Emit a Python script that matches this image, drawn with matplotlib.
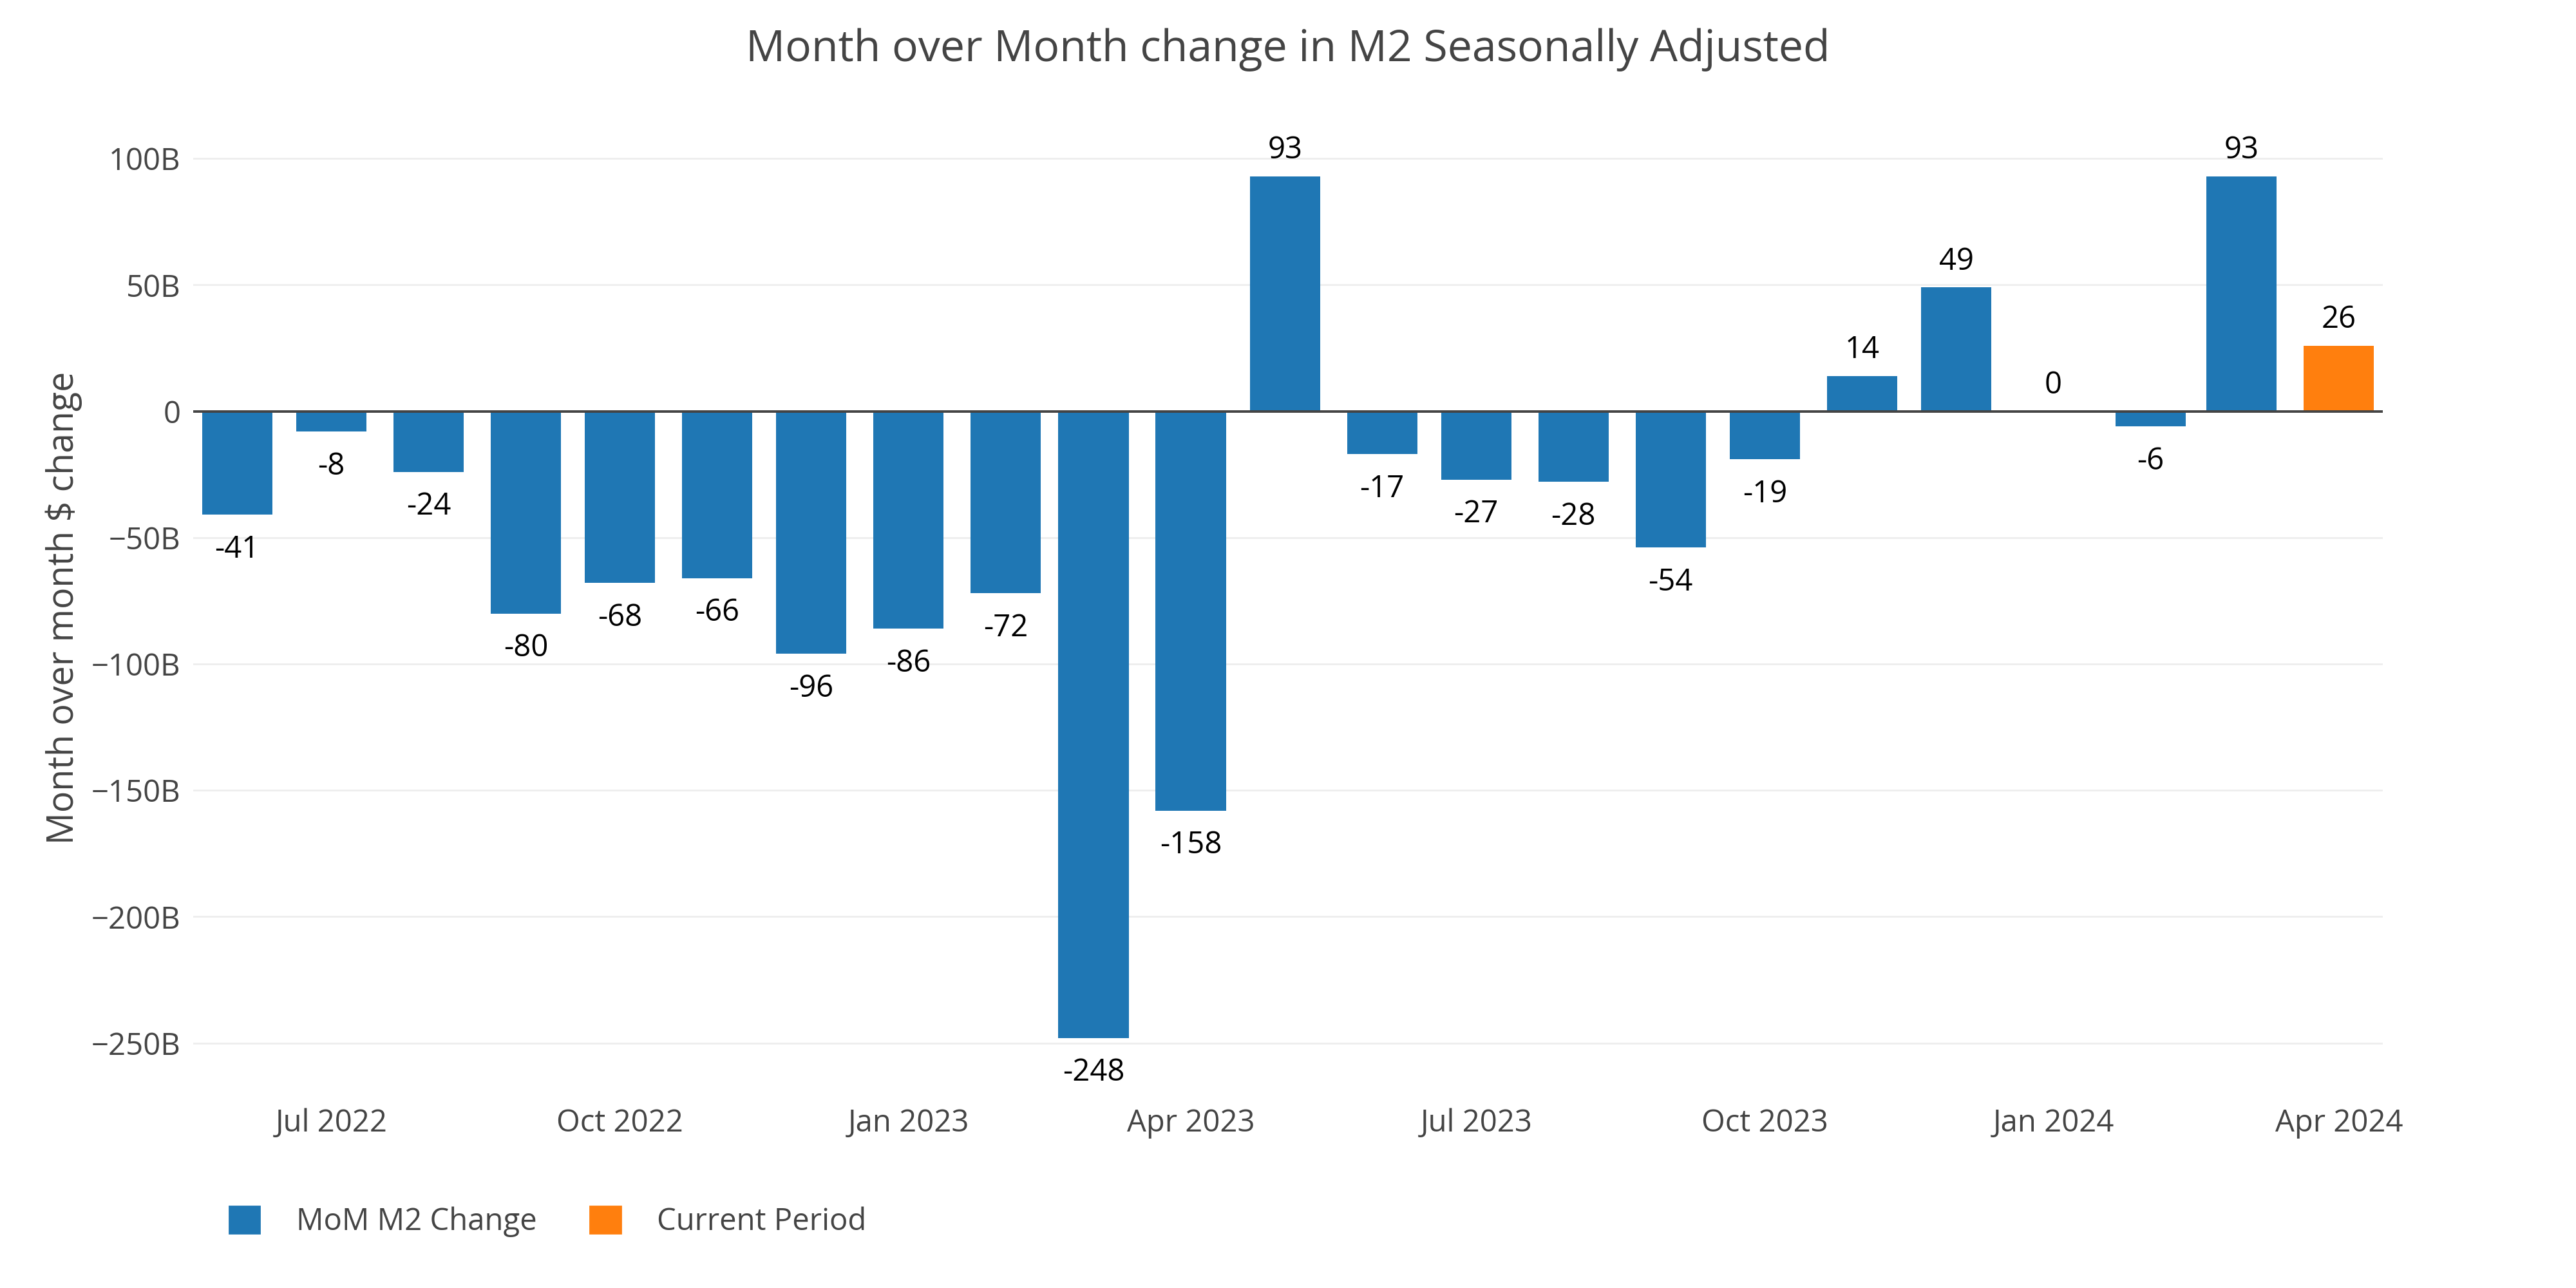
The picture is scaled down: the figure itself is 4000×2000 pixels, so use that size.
import numpy as np
import pandas as pd
import matplotlib
matplotlib.use('Agg')
import matplotlib.pyplot as plt
import matplotlib.dates as mdates
from matplotlib.patches import Patch
from matplotlib.ticker import FuncFormatter

plt.rcParams['font.family'] = ['Open Sans', 'DejaVu Sans']

# monthly change in M2 (billions of $)
months = ['2022-06', '2022-07', '2022-08', '2022-09', '2022-10', '2022-11',
          '2022-12', '2023-01', '2023-02', '2023-03', '2023-04', '2023-05',
          '2023-06', '2023-07', '2023-08', '2023-09', '2023-10', '2023-11',
          '2023-12', '2024-01', '2024-02', '2024-03', '2024-04']
mom_change = [-41, -8, -24, -80, -68, -66, -96, -86, -72, -248, -158, 93,
              -17, -27, -28, -54, -19, 14, 49, 0, -6, 93, 26]

dates = pd.to_datetime(months)
blue = '#1f77b4'
orange = '#ff7f0e'
grey = '#444444'

fig = plt.figure(figsize=(20, 10), dpi=200)
ax = fig.add_axes([0.075, 0.148, 0.85, 0.777])

# plotly style: bar width = 0.8 of smallest gap (28 days)
width = pd.Timedelta(days=22.4)
colors = [blue] * (len(mom_change) - 1) + [orange]
ax.bar(dates, mom_change, width=width, color=colors, zorder=3)

for d, v in zip(dates, mom_change):
    if v >= 0:
        ax.annotate(f'{v:.0f}', (d, v), xytext=(0, 10), textcoords='offset points',
                    ha='center', va='baseline', fontsize=17, color='black')
    else:
        ax.annotate(f'{v:.0f}', (d, v), xytext=(0, -24), textcoords='offset points',
                    ha='center', va='baseline', fontsize=17, color='black')

ax.axhline(0, color=grey, lw=1.4, zorder=4)
ax.set_ylim(-271.5, 124.5)
ax.set_xlim(dates[0] - pd.Timedelta(days=14), dates[-1] + pd.Timedelta(days=14))

ax.set_yticks([100, 50, 0, -50, -100, -150, -200, -250])
ax.yaxis.set_major_formatter(FuncFormatter(
    lambda v, p: '0' if v == 0 else f'{v:.0f}B'.replace('-', '\u2212')))
ax.xaxis.set_major_locator(mdates.MonthLocator(bymonth=[1, 4, 7, 10]))
ax.xaxis.set_major_formatter(mdates.DateFormatter('%b %Y'))

ax.grid(axis='y', color='#eeeeee', lw=1.0, zorder=0)
ax.tick_params(axis='both', length=0, labelsize=17, labelcolor=grey)
ax.tick_params(axis='y', pad=7)
ax.tick_params(axis='x', pad=6)
for s in ax.spines.values():
    s.set_visible(False)

fig.text(0.5, 0.9615, 'Month over Month change in M2 Seasonally Adjusted',
         ha='center', va='center', fontsize=24.5, color=grey)
fig.text(0.0248, 0.528, 'Month over month $ change', rotation=90,
         ha='center', va='center', fontsize=20, color=grey)

handles = [Patch(color=blue, label='MoM M2 Change'),
           Patch(color=orange, label='Current Period')]
fig.legend(handles=handles, loc='center left', bbox_to_anchor=(0.089, 0.0515),
           ncol=2, frameon=False, fontsize=17, labelcolor=grey,
           handlelength=1.0, handleheight=1.0, handletextpad=1.2,
           columnspacing=1.75, borderpad=0, borderaxespad=0)

fig.savefig('out.png', dpi=200)
